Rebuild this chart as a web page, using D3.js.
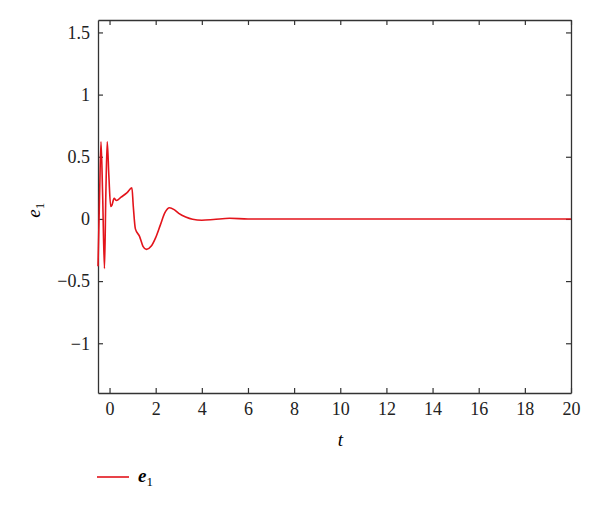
<!DOCTYPE html>
<html>
<head>
<meta charset="utf-8">
<script src="https://cdn.jsdelivr.net/npm/d3@7"></script>
<style>
body { margin: 0; background: #fff; }
svg { display: block; }
</style>
</head>
<body>
<svg width="600" height="509"></svg>
<script>
// time samples and e1 error values
const tValues = [-0.5, -0.43, -0.37, -0.3, -0.22, -0.16, -0.1, -0.03, 0.05, 0.1, 0.2, 0.3, 0.5, 0.75, 0.97,
	1.03, 1.12, 1.3, 1.45, 1.6, 1.8, 2.0, 2.2, 2.4, 2.6, 2.8, 3.0, 3.3, 3.6, 4.0, 4.5, 5.2, 6.0, 8, 20];
const e1Values = [-0.38, 0.2, 0.62, 0.2, -0.4, 0.2, 0.62, 0.35, 0.1, 0.11, 0.165, 0.148, 0.175, 0.21, 0.25,
	0.1, -0.08, -0.14, -0.22, -0.245, -0.22, -0.15, -0.05, 0.05, 0.09, 0.075, 0.045, 0.015, -0.003, -0.01, -0.005, 0.005, 0, 0, 0];
const xTicks = [0, 2, 4, 6, 8, 10, 12, 14, 16, 18, 20];
const yTicks = [-1, -0.5, 0, 0.5, 1, 1.5];

const svg = d3.select('svg');
const margin = {left: 98, right: 29, top: 20, bottom: 116};
const width = 600 - margin.left - margin.right;
const height = 509 - margin.top - margin.bottom;
const serif = '"Liberation Serif", "Times New Roman", serif';

const x = d3.scaleLinear().domain([-0.5, 20]).range([0, width]);
const y = d3.scaleLinear().domain([-1.4, 1.6]).range([height, 0]);

const g = svg.append('g').attr('transform', `translate(${margin.left},${margin.top})`);

const fmt = d => d < 0 ? '\u2212' + Math.abs(d) : String(d);

// assi: tacche verso l'interno su tutti i lati
const axes = [
	{ax: d3.axisBottom(x).tickValues(xTicks).tickSizeInner(-5).tickSizeOuter(0).tickPadding(9).tickFormat(fmt), tr: `translate(0,${height})`},
	{ax: d3.axisTop(x).tickValues(xTicks).tickSizeInner(-5).tickSizeOuter(0).tickFormat(''), tr: 'translate(0,0)'},
	{ax: d3.axisLeft(y).tickValues(yTicks).tickSizeInner(-5).tickSizeOuter(0).tickPadding(8).tickFormat(fmt), tr: 'translate(0,0)'},
	{ax: d3.axisRight(y).tickValues(yTicks).tickSizeInner(-5).tickSizeOuter(0).tickFormat(''), tr: `translate(${width},0)`}
];
axes.forEach(a => {
	const sel = g.append('g').attr('transform', a.tr).call(a.ax);
	sel.select('.domain').attr('stroke', '#333').attr('stroke-width', 1.3);
	sel.selectAll('.tick line').attr('stroke', '#333').attr('stroke-width', 1.2);
	sel.selectAll('.tick text')
		.attr('font-family', serif)
		.attr('font-size', '18px')
		.attr('fill', '#222');
});

// curva e1
const line = d3.line()
	.x((d, i) => x(tValues[i]))
	.y(d => y(d))
	.curve(d3.curveMonotoneX);

g.append('path')
	.datum(e1Values)
	.attr('d', line)
	.attr('fill', 'none')
	.attr('stroke', '#e3141b')
	.attr('stroke-width', 1.6);

// etichette assi
svg.append('text')
	.attr('x', margin.left + x(10))
	.attr('y', 446)
	.attr('text-anchor', 'middle')
	.attr('font-family', serif)
	.attr('font-style', 'italic')
	.attr('font-size', '19px')
	.text('t');

const yl = svg.append('text')
	.attr('transform', `translate(40,${margin.top + y(0.07)}) rotate(-90)`)
	.attr('text-anchor', 'middle')
	.attr('font-family', serif)
	.attr('font-size', '19px');
yl.append('tspan').attr('font-style', 'italic').text('e');
yl.append('tspan').attr('font-size', '13px').attr('dy', 4).text('1');

// legenda
svg.append('line')
	.attr('x1', 97).attr('x2', 129)
	.attr('y1', 477).attr('y2', 477)
	.attr('stroke', '#e3141b')
	.attr('stroke-width', 1.6);
const lt = svg.append('text')
	.attr('x', 138)
	.attr('y', 482)
	.attr('font-family', serif)
	.attr('font-size', '19px');
lt.append('tspan').attr('font-style', 'italic').attr('font-weight', 'bold').text('e');
lt.append('tspan').attr('font-size', '13px').attr('dy', 4).text('1');
</script>
</body>
</html>
